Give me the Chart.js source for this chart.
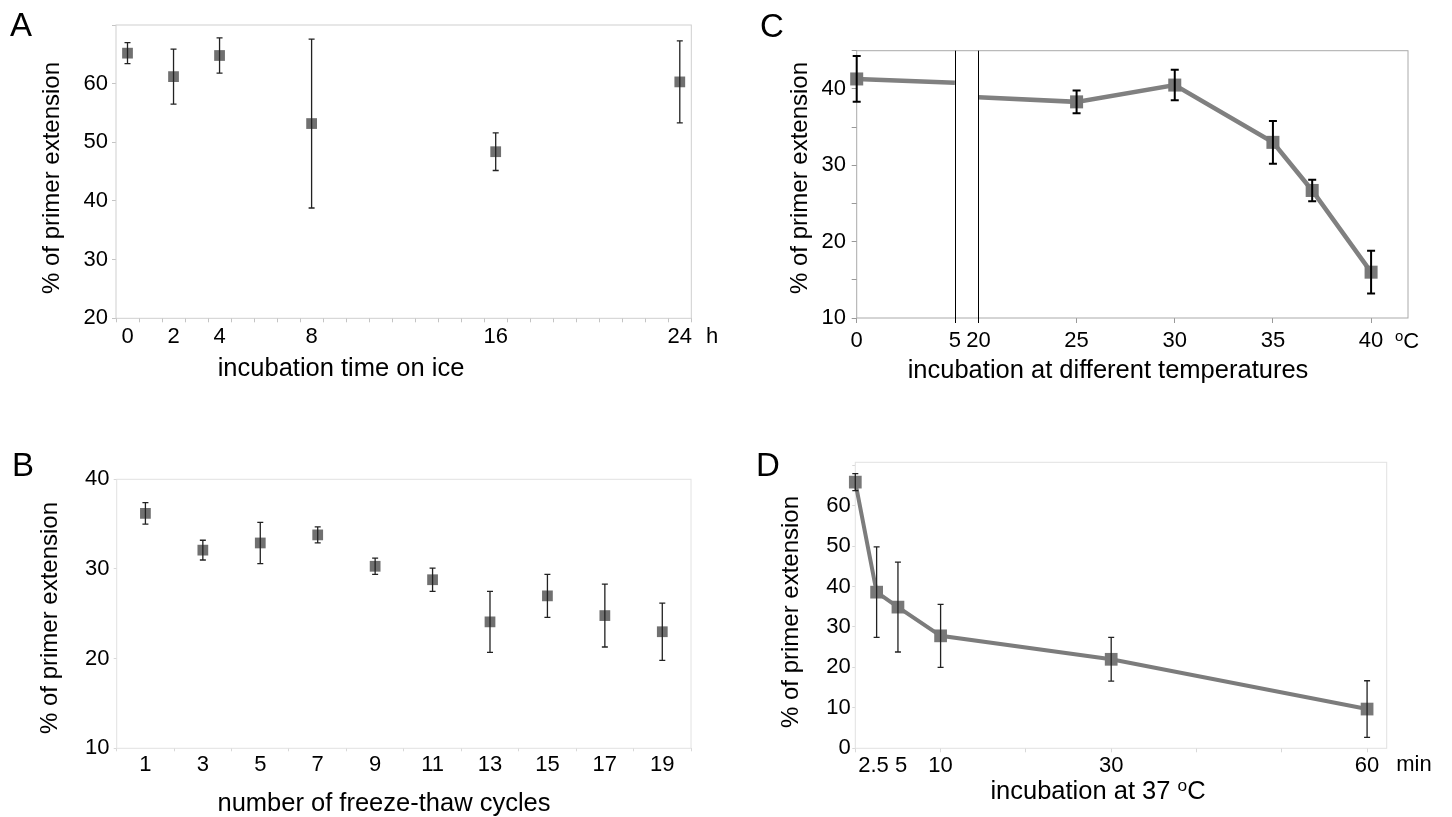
<!DOCTYPE html>
<html>
<head>
<meta charset="utf-8">
<title>primer extension</title>
<script src="https://cdn.jsdelivr.net/npm/chart.js@4.4.1/dist/chart.umd.min.js"></script>
<style>
  body { margin: 0; background: #fff; }
  #page { position: relative; width: 1452px; height: 817px; overflow: hidden; font-family: "Liberation Sans", Arial, sans-serif; }
  .box { position: absolute; }
  .txt { position: absolute; white-space: nowrap; color: #000; line-height: 1; transform: translate(-50%, -50%); }
  .letter { font-size: 33px; }
  .xt { font-size: 25.5px; }
  .yt { font-size: 24px; transform: translate(-50%, -50%) rotate(-90deg); }
  .unit { font-size: 22px; }
  .deg { font-size: 0.68em; position: relative; top: -0.45em; }
</style>
</head>
<body>
<div id="page">
  <div class="box" style="left:0;top:0;width:726px;height:400px"><canvas id="chartA"></canvas></div>
  <div class="box" style="left:726px;top:0;width:726px;height:400px"><canvas id="chartC"></canvas></div>
  <div class="box" style="left:0;top:400px;width:726px;height:417px"><canvas id="chartB"></canvas></div>
  <div class="box" style="left:726px;top:400px;width:726px;height:417px"><canvas id="chartD"></canvas></div>

  <div class="txt letter" style="left:21px;top:24px">A</div>
  <div class="txt letter" style="left:23px;top:464px">B</div>
  <div class="txt letter" style="left:772px;top:25px">C</div>
  <div class="txt letter" style="left:768px;top:464px">D</div>

  <div class="txt yt" style="left:51px;top:178px">% of primer extension</div>
  <div class="txt yt" style="left:49px;top:618px">% of primer extension</div>
  <div class="txt yt" style="left:799px;top:178px">% of primer extension</div>
  <div class="txt yt" style="left:790px;top:612px">% of primer extension</div>

  <div class="txt xt" style="left:341px;top:368px">incubation time on ice</div>
  <div class="txt xt" style="left:384px;top:803px">number of freeze-thaw cycles</div>
  <div class="txt xt" style="left:1108px;top:370px">incubation at different temperatures</div>
  <div class="txt xt" style="left:1098px;top:791px">incubation at 37 <span class="deg">o</span>C</div>

  <div class="txt unit" style="left:712px;top:336px">h</div>
  <div class="txt unit" style="left:1407px;top:341px"><span class="deg">o</span>C</div>
  <div class="txt unit" style="left:1414px;top:764px">min</div>
</div>

<script>
// A - incubation time on ice (h)
const aHours = [0, 2, 4, 8, 16, 24];
const aValues = [65.2, 61.2, 64.8, 53.2, 48.4, 60.3];
const aErrors = [1.8, 4.7, 3.0, 14.4, 3.2, 7.0];
const aXLabels = [0, 2, 4, 8, 16, 24];
const aYLabels = [20, 30, 40, 50, 60];

// B - freeze-thaw cycles
const bCycles = ['1', '3', '5', '7', '9', '11', '13', '15', '17', '19'];
const bValues = [36.2, 32.1, 32.9, 33.8, 30.3, 28.8, 24.1, 27.0, 24.8, 23.0];
const bErrors = [1.2, 1.1, 2.3, 0.9, 0.9, 1.3, 3.4, 2.4, 3.5, 3.2];
const bYLabels = [10, 20, 30, 40];

// C - temperatures (oC), axis broken between 5 and 20
const cTemps = [0, 5, 20, 25, 30, 35, 37, 40];
const cValues = [41.3, 40.8, 38.9, 38.3, 40.5, 33.0, 26.7, 16.0];
const cErrors = [3.0, null, null, 1.5, 2.0, 2.8, 1.4, 2.8];
const cXLabels = [0, 5, 20, 25, 30, 35, 40];
const cXMarks = [0, 25, 30, 35, 40];
const cYLabels = [10, 20, 30, 40];
const cYMarks = [10, 15, 20, 25, 30, 35, 40, 45];
const cBreak = [5, 20];

// D - incubation at 37 oC (min)
const dMinutes = [0, 2.5, 5, 10, 30, 60];
const dValues = [65.8, 38.6, 34.9, 27.8, 22.0, 9.7];
const dErrors = [2.1, 11.2, 11.1, 7.8, 5.4, 7.0];
const dXLabels = [2.5, 5, 10, 30, 60];
const dXMarks = [0, 10, 20, 30, 40, 50, 60];
const dYLabels = [0, 10, 20, 30, 40, 50, 60];
const dYMarks = [0, 10, 20, 30, 40, 50, 60, 70];

const tickFont = { family: 'Liberation Sans', size: 22 };
const markerGrey = '#707070';

// the broken axis of C: everything from 20 up is pulled left
const cShift = 13.8;
const toAxis = t => t >= cBreak[1] ? t - cShift : t;
const fromAxis = u => u > cBreak[0] + 0.01 ? Math.round(u + cShift) : Math.round(u);

// error bars, drawn over the markers
const errorBars = {
  id: 'errorBars',
  afterDatasetsDraw(chart, args, opts) {
    const ctx = chart.ctx;
    const ds = chart.data.datasets[0];
    const meta = chart.getDatasetMeta(0);
    const ys = chart.scales.y;
    ctx.save();
    ctx.strokeStyle = opts.color;
    ctx.lineWidth = opts.width;
    meta.data.forEach((pt, i) => {
      const e = ds.err[i];
      if (e == null) return;
      const d = ds.data[i];
      const v = typeof d === 'object' ? d.y : d;
      const top = ys.getPixelForValue(v + e);
      const bot = ys.getPixelForValue(v - e);
      ctx.beginPath();
      ctx.moveTo(pt.x, top); ctx.lineTo(pt.x, bot);
      ctx.moveTo(pt.x - opts.cap, top); ctx.lineTo(pt.x + opts.cap, top);
      ctx.moveTo(pt.x - opts.cap, bot); ctx.lineTo(pt.x + opts.cap, bot);
      ctx.stroke();
    });
    ctx.restore();
  }
};

// plot frame
const frame = {
  id: 'frame',
  beforeDatasetsDraw(chart, args, opts) {
    const a = chart.chartArea;
    const ctx = chart.ctx;
    ctx.save();
    ctx.strokeStyle = opts.color;
    ctx.lineWidth = 1;
    ctx.strokeRect(a.left, a.top, a.right - a.left, a.bottom - a.top);
    ctx.restore();
  }
};

// the two lines that mark the break in C
const breakLines = {
  id: 'breakLines',
  afterDraw(chart) {
    const xs = chart.scales.x;
    const a = chart.chartArea;
    const ctx = chart.ctx;
    ctx.save();
    ctx.strokeStyle = '#000';
    ctx.lineWidth = 1;
    cBreak.forEach(t => {
      const px = Math.round(xs.getPixelForValue(toAxis(t))) + 0.5;
      ctx.beginPath();
      ctx.moveTo(px, a.top);
      ctx.lineTo(px, a.bottom + 5);
      ctx.stroke();
    });
    ctx.restore();
  }
};

function linAxis(o) {
  const all = Array.from(new Set(o.marks.concat(o.labels))).sort((p, q) => p - q);
  return {
    type: 'linear',
    min: o.min,
    max: o.max,
    afterBuildTicks: s => { s.ticks = all.map(v => ({ value: v })); },
    afterFit: s => {
      if (o.width != null) s.width = o.width;
      if (o.height != null) s.height = o.height;
    },
    border: { display: false },
    grid: {
      drawOnChartArea: false,
      tickLength: o.tick,
      tickWidth: 1,
      tickColor: c => (c.tick && o.marks.includes(c.tick.value)) ? o.color : 'rgba(0,0,0,0)'
    },
    ticks: {
      autoSkip: false,
      maxRotation: 0,
      padding: o.pad,
      color: '#000',
      font: tickFont,
      callback: v => o.labels.includes(v) ? (o.fmt ? o.fmt(v) : String(v)) : ''
    }
  };
}

function baseOptions(pad) {
  return {
    responsive: true,
    maintainAspectRatio: false,
    animation: false,
    events: [],
    layout: { padding: pad },
    plugins: { legend: { display: false }, tooltip: { enabled: false } }
  };
}

// half-hour tick marks on A, between the hours
const aXMarks = [];
for (let h = -0.5; h <= 24.5; h += 1) aXMarks.push(h);

// Chart A
const optA = baseOptions({ left: 0, top: 25, right: 34.7, bottom: 0 });
optA.scales = {
  x: linAxis({ min: -0.5, max: 24.5, marks: aXMarks, labels: aXLabels, tick: 4, pad: 1.5, color: '#c4c4c4', height: 81.7 }),
  y: linAxis({ min: 20, max: 70, marks: [20, 30, 40, 50, 60, 70], labels: aYLabels, tick: 4, pad: 4, color: '#c4c4c4', width: 116 })
};
optA.plugins.errorBars = { color: '#222', width: 1.3, cap: 3 };
optA.plugins.frame = { color: '#cfcfcf' };
new Chart(document.getElementById('chartA'), {
  type: 'line',
  data: {
    datasets: [{
      data: aHours.map((h, i) => ({ x: h, y: aValues[i] })),
      err: aErrors,
      showLine: false,
      clip: false,
      pointStyle: 'rect',
      pointRadius: 7.6,
      pointHoverRadius: 7.6,
      pointBorderWidth: 0,
      pointBackgroundColor: markerGrey
    }]
  },
  options: optA,
  plugins: [frame, errorBars]
});

// Chart B
const optB = baseOptions({ left: 0, top: 79.3, right: 35, bottom: 0 });
optB.scales = {
  x: {
    type: 'category',
    offset: true,
    afterFit: s => { s.height = 68.7; },
    border: { display: false },
    grid: { offset: true, drawOnChartArea: false, tickLength: 3, tickColor: '#d8d8d8' },
    ticks: { padding: 0.2, color: '#000', font: tickFont, autoSkip: false, maxRotation: 0 }
  },
  y: linAxis({ min: 10, max: 40, marks: bYLabels, labels: bYLabels, tick: 3, pad: 4.3, color: '#d8d8d8', width: 116.7 })
};
optB.plugins.errorBars = { color: '#222', width: 1.3, cap: 3 };
optB.plugins.frame = { color: '#e2e2e2' };
new Chart(document.getElementById('chartB'), {
  type: 'line',
  data: {
    labels: bCycles,
    datasets: [{
      data: bValues,
      err: bErrors,
      showLine: false,
      clip: false,
      pointStyle: 'rect',
      pointRadius: 7.6,
      pointHoverRadius: 7.6,
      pointBorderWidth: 0,
      pointBackgroundColor: markerGrey
    }]
  },
  options: optB,
  plugins: [frame, errorBars]
});

// Chart C
const cLine = '#808080';
const optC = baseOptions({ left: 0, top: 50.7, right: 44, bottom: 0 });
optC.scales = {
  x: linAxis({ min: 0, max: 28.08, marks: cXMarks.map(toAxis), labels: cXLabels.map(toAxis), tick: 5, pad: 4.6, color: '#999', height: 82, fmt: fromAxis }),
  y: linAxis({ min: 10, max: 45, marks: cYMarks, labels: cYLabels, tick: 5, pad: 5.7, color: '#999', width: 130.7 })
};
optC.plugins.errorBars = { color: '#000', width: 2, cap: 4 };
optC.plugins.frame = { color: '#aaaaaa' };
new Chart(document.getElementById('chartC'), {
  type: 'line',
  data: {
    datasets: [{
      data: cTemps.map((t, i) => ({ x: toAxis(t), y: cValues[i] })),
      err: cErrors,
      clip: false,
      borderColor: cLine,
      borderWidth: 4.5,
      tension: 0,
      segment: { borderColor: c => cTemps[c.p0DataIndex] === cBreak[0] ? 'rgba(0,0,0,0)' : cLine },
      pointStyle: 'rect',
      pointRadius: c => cBreak.includes(cTemps[c.dataIndex]) ? 0 : 9.2,
      pointHoverRadius: c => cBreak.includes(cTemps[c.dataIndex]) ? 0 : 9.2,
      pointBorderWidth: 0,
      pointBackgroundColor: '#787878'
    }]
  },
  options: optC,
  plugins: [frame, errorBars, breakLines]
});

// Chart D ("2.5" and "5" sit close, so they are nudged apart with a space)
const dLabelText = v => v === 2.5 ? '2.5 ' : (v === 5 ? ' 5' : String(v));
const optD = baseOptions({ left: 0, top: 62.3, right: 65.3, bottom: 0 });
optD.scales = {
  x: linAxis({ min: 0, max: 62.3, marks: dXMarks, labels: dXLabels, tick: 4, pad: 0, color: '#d8d8d8', height: 68.7, fmt: dLabelText }),
  y: linAxis({ min: 0, max: 70.7, marks: dYMarks, labels: dYLabels, tick: 3, pad: 1.6, color: '#d8d8d8', width: 129.3 })
};
optD.plugins.errorBars = { color: '#222', width: 1.3, cap: 3 };
optD.plugins.frame = { color: '#e2e2e2' };
new Chart(document.getElementById('chartD'), {
  type: 'line',
  data: {
    datasets: [{
      data: dMinutes.map((m, i) => ({ x: m, y: dValues[i] })),
      err: dErrors,
      clip: false,
      borderColor: '#7c7c7c',
      borderWidth: 4,
      tension: 0,
      pointStyle: 'rect',
      pointRadius: 9,
      pointHoverRadius: 9,
      pointBorderWidth: 0,
      pointBackgroundColor: '#787878'
    }]
  },
  options: optD,
  plugins: [frame, errorBars]
});
</script>
</body>
</html>
